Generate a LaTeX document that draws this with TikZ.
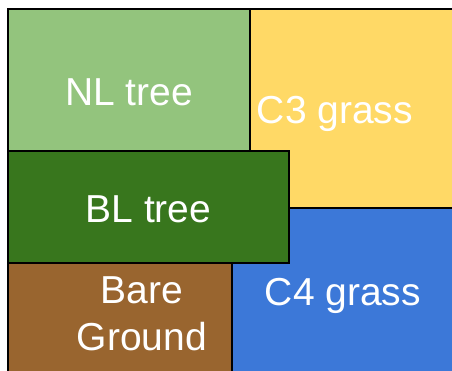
\documentclass[tikz,border=0pt]{standalone}
\usepackage{fontspec}
\setmainfont{Liberation Sans}
\definecolor{nlgreen}{HTML}{93C47D}
\definecolor{cthree}{HTML}{FFD966}
\definecolor{blgreen}{HTML}{38761D}
\definecolor{cfour}{HTML}{3C78D8}
\definecolor{bare}{HTML}{99652F}
\begin{document}
\begin{tikzpicture}[x=1pt,y=1pt,
  region/.style={draw=black,line width=2pt},
  lbl/.style={text=white,anchor=base,inner sep=0pt,font=\fontsize{39}{47}\selectfont}]
\useasboundingbox (0,0) rectangle (452,370);
\clip (0,0) rectangle (452,370);
\filldraw[region,fill=nlgreen] (8,219) rectangle (250,361);
\filldraw[region,fill=cthree] (250,162) rectangle (462,361);
\filldraw[region,fill=cfour] (232,-10) rectangle (462,162);
\filldraw[region,fill=bare] (8,-10) rectangle (232,107);
\filldraw[region,fill=blgreen] (8,107) rectangle (289,219);
\node[lbl] (nl) at (129,264) {NL tree};
\node[lbl] (c3) at (335,246) {C3 grass};
\node[lbl] (bl) at (148.5,148) {BL tree};
\node[lbl] (bare) at (142,67) {Bare};
\node[lbl] (ground) at (142,20) {Ground};
\node[lbl] (c4) at (343,65) {C4 grass};
\end{tikzpicture}
\end{document}
